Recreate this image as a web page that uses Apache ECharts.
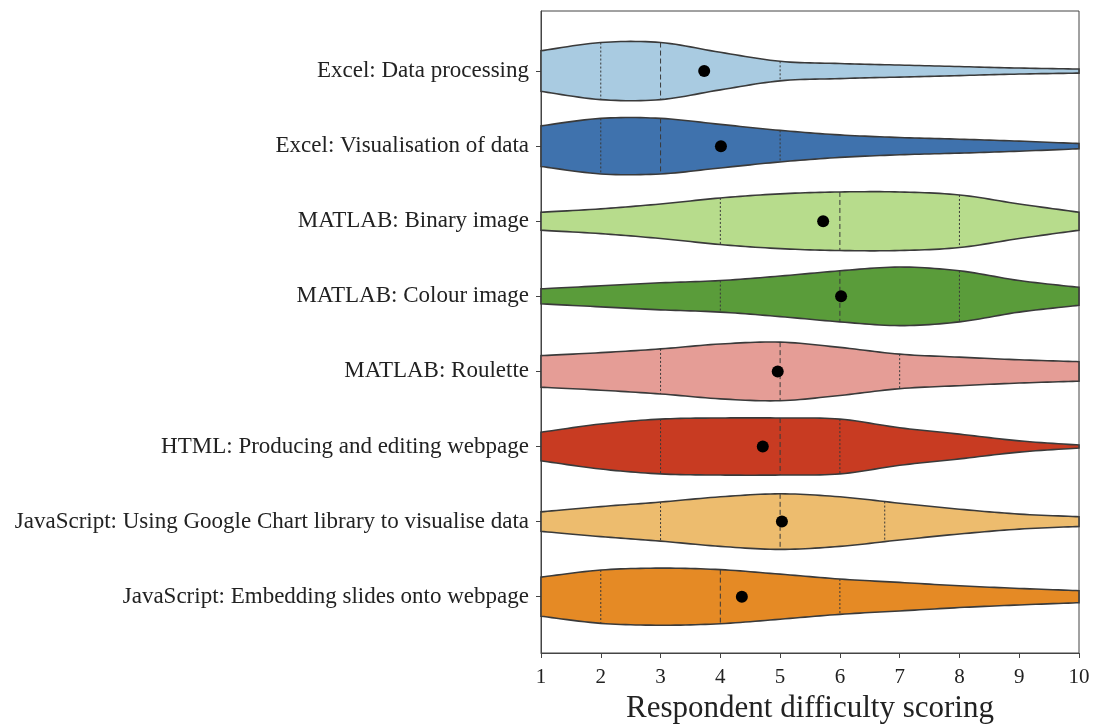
<!DOCTYPE html>
<html>
<head>
<meta charset="utf-8">
<script src="https://cdn.jsdelivr.net/npm/echarts@6/dist/echarts.min.js"></script>
<style>
  html, body { margin: 0; padding: 0; background: #fff; }
  #chart { width: 1096px; height: 725px; }
</style>
</head>
<body>
<div id="chart"></div>
<script>
// categories, top to bottom
var categories = [
    'Excel: Data processing',
    'Excel: Visualisation of data',
    'MATLAB: Binary image',
    'MATLAB: Colour image',
    'MATLAB: Roulette',
    'HTML: Producing and editing webpage',
    'JavaScript: Using Google Chart library to visualise data',
    'JavaScript: Embedding slides onto webpage'
];
var colors = ['#a9cbe1', '#3f72ad', '#b7dc8c', '#5a9c3a', '#e59d96', '#c83b22', '#edbc6e', '#e58a25'];

// score grid for the violin outlines
var scores = [1, 2, 3, 4, 5, 6, 7, 8, 9, 10];
// violin half-widths at each score (in category units)
var wExcelData   = [0.27, 0.38, 0.38, 0.25, 0.13, 0.10, 0.08, 0.06, 0.04, 0.027];
var wExcelVis    = [0.27, 0.37, 0.37, 0.29, 0.21, 0.15, 0.115, 0.093, 0.067, 0.035];
var wMatBinary   = [0.12, 0.165, 0.23, 0.31, 0.365, 0.39, 0.39, 0.35, 0.23, 0.12];
var wMatColour   = [0.10, 0.14, 0.18, 0.21, 0.27, 0.34, 0.39, 0.34, 0.21, 0.12];
var wMatRoulette = [0.21, 0.25, 0.30, 0.365, 0.39, 0.32, 0.23, 0.19, 0.155, 0.13];
var wHtml        = [0.19, 0.30, 0.365, 0.38, 0.38, 0.365, 0.25, 0.165, 0.075, 0.02];
var wJsGoogle    = [0.13, 0.20, 0.26, 0.33, 0.37, 0.33, 0.245, 0.165, 0.10, 0.065];
var wJsSlides    = [0.26, 0.355, 0.38, 0.36, 0.30, 0.235, 0.19, 0.145, 0.11, 0.08];
var widths = [wExcelData, wExcelVis, wMatBinary, wMatColour, wMatRoulette, wHtml, wJsGoogle, wJsSlides];

// quartiles and means
var q1 = [2, 2, 4, 4, 3, 3, 3, 2];
var median = [3, 3, 6, 6, 5, 5, 5, 4];
var q3 = [5, 5, 8, 8, 7, 6, 6.75, 6];
var means = [3.73, 4.01, 5.72, 6.02, 4.96, 4.71, 5.03, 4.36];

var xTicks = [1, 10];
var edge = '#3a3a3a';
var serif = 'Liberation Serif';

// catmull-rom through the outline points (pixel space)
function spline(pts) {
    var out = [];
    for (var i = 0; i < pts.length - 1; i++) {
        var p0 = pts[Math.max(i - 1, 0)], p1 = pts[i], p2 = pts[i + 1], p3 = pts[Math.min(i + 2, pts.length - 1)];
        for (var s = 0; s < 12; s++) {
            var t = s / 12, t2 = t * t, t3 = t2 * t;
            var pt = [0, 1].map(function (k) {
                return 0.5 * (2 * p1[k] + (-p0[k] + p2[k]) * t + (2 * p0[k] - 5 * p1[k] + 4 * p2[k] - p3[k]) * t2 + (-p0[k] + 3 * p1[k] - 3 * p2[k] + p3[k]) * t3);
            });
            out.push(pt);
        }
    }
    out.push(pts[pts.length - 1]);
    return out;
}

function halfAt(curve, x, cy) {
    var best = curve[0];
    for (var i = 0; i < curve.length; i++) {
        if (Math.abs(curve[i][0] - x) < Math.abs(best[0] - x)) best = curve[i];
    }
    return cy - best[1];
}

function renderViolin(params, api) {
    var idx = api.value(0);
    var pos = idx + 1;
    var w = widths[idx];
    var top = scores.map(function (s, j) { return api.coord([s, pos - w[j]]); });
    var topC = spline(top);
    var cy = api.coord([1, pos])[1];
    var botC = topC.map(function (p) { return [p[0], 2 * cy - p[1]]; }).reverse();
    var children = [{
        type: 'polygon',
        shape: { points: topC.concat(botC) },
        style: { fill: colors[idx], stroke: edge, lineWidth: 1.6 }
    }];
    var lines = [[q1[idx], [2, 2]], [median[idx], [5, 3]], [q3[idx], [2, 2]]];
    lines.forEach(function (l) {
        var x = api.coord([l[0], pos])[0];
        var h = halfAt(topC, x, cy);
        children.push({
            type: 'line',
            shape: { x1: x, y1: cy - h, x2: x, y2: cy + h },
            style: { stroke: edge, lineWidth: 1, lineDash: l[1] }
        });
    });
    return { type: 'group', children: children };
}

var myChart = echarts.init(document.getElementById('chart'));
myChart.setOption({
    backgroundColor: '#fff',
    animation: false,
    grid: {
        left: 541, right: 17, top: 11, bottom: 72,
        outerBoundsMode: 'none',
        containLabel: false,
        show: true, borderColor: '#444', borderWidth: 1
    },
    xAxis: {
        type: 'value',
        min: xTicks[0], max: xTicks[1], interval: 1,
        name: 'Respondent difficulty scoring',
        nameLocation: 'middle',
        nameGap: 39,
        nameTextStyle: { fontFamily: serif, fontSize: 31, color: '#222' },
        axisLine: { lineStyle: { color: '#444', width: 1 } },
        axisTick: { show: true, length: 5, lineStyle: { color: '#444' } },
        axisLabel: { fontFamily: serif, fontSize: 21, color: '#222', margin: 14 },
        splitLine: { show: false }
    },
    yAxis: {
        type: 'value',
        inverse: true,
        min: 0.2, max: 8.75,
        axisLine: { show: true, lineStyle: { color: '#444', width: 1 } },
        axisTick: { show: true, length: 5, lineStyle: { color: '#444' }, customValues: [1, 2, 3, 4, 5, 6, 7, 8] },
        axisLabel: {
            fontFamily: serif, fontSize: 23, color: '#222', margin: 12,
            customValues: [1, 2, 3, 4, 5, 6, 7, 8],
            formatter: function (v) { return categories[Math.round(v) - 1] || ''; }
        },
        splitLine: { show: false }
    },
    series: [
        {
            type: 'custom',
            renderItem: renderViolin,
            data: categories.map(function (c, i) { return [i]; }),
            encode: { x: [], y: [] },
            z: 2
        },
        {
            type: 'scatter',
            data: means.map(function (m, i) { return [m, i + 1]; }),
            symbolSize: 12,
            itemStyle: { color: '#000', opacity: 1 },
            z: 5
        }
    ]
});
window.addEventListener('resize', function () {
    myChart.resize();
});
</script>
</body>
</html>
